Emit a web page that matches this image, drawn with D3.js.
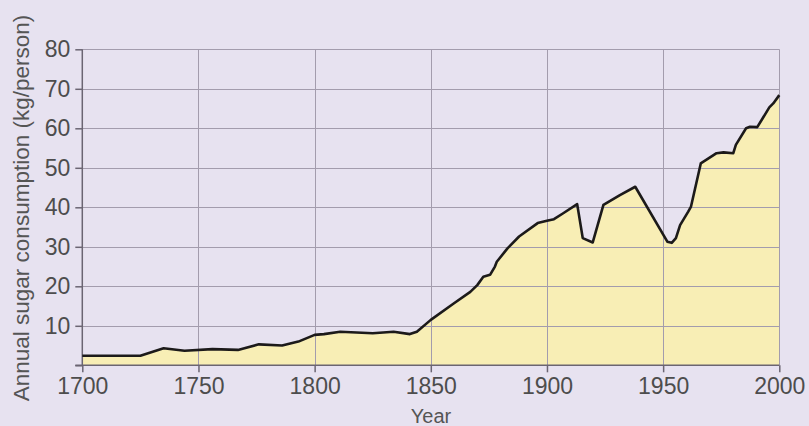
<!DOCTYPE html>
<html>
<head>
<meta charset="utf-8">
<script src="https://cdn.jsdelivr.net/npm/d3@7"></script>
<style>
  html, body { margin: 0; padding: 0; background: #e7e2f0; }
  svg { display: block; font-family: "Liberation Sans", Arial, sans-serif; }
</style>
</head>
<body>
<svg id="chart" width="809" height="426"></svg>
<script>
// Annual sugar consumption per person, 1700-2000
const years = [1700, 1725, 1735, 1744, 1756, 1767, 1776, 1786, 1793, 1800, 1804, 1811, 1825, 1834, 1841, 1844,
  1850, 1860, 1867, 1870, 1872.6, 1875.5, 1877.6, 1878.4, 1883, 1888, 1896, 1900, 1903, 1907, 1913,
  1915.4, 1919.7, 1924.3, 1931.4, 1938, 1951.8, 1953.7, 1955.5, 1957.3, 1960.8, 1962, 1966.2, 1973,
  1976, 1980.2, 1981.3, 1985.7, 1987.4, 1990.5, 1992.4, 1995.7, 1997.4, 2000];
const consumption = [2.4, 2.4, 4.3, 3.7, 4.1, 3.9, 5.3, 5.0, 6.0, 7.7, 7.9, 8.5, 8.1, 8.5, 7.9, 8.5,
  11.5, 15.7, 18.6, 20.3, 22.4, 22.9, 25.0, 26.2, 29.6, 32.6, 36.0, 36.6, 37.0, 38.5, 40.8,
  32.2, 31.1, 40.6, 43.1, 45.2, 31.3, 31.0, 32.2, 35.5, 38.9, 40.2, 51.1, 53.7,
  53.9, 53.7, 55.8, 60.0, 60.4, 60.3, 62.1, 65.3, 66.3, 68.4];
const xTicks = [1700, 1750, 1800, 1850, 1900, 1950, 2000];
const yTicks = [10, 20, 30, 40, 50, 60, 70, 80];
const yTitle = "Annual sugar consumption (kg/person)";
const xTitle = "Year";

const svg = d3.select("#chart");
const x = d3.scaleLinear().domain([1700, 2000]).range([82.3, 779.3]);
const y = d3.scaleLinear().domain([0, 80]).range([365.3, 49.3]);
const data = years.map((yr, i) => ({ yr, v: consumption[i] }));

// yellow area under the curve
svg.append("path")
  .datum(data)
  .attr("fill", "#f8eeb5")
  .attr("d", d3.area().x(d => x(d.yr)).y0(y(0)).y1(d => y(d.v)));

// grid
const grid = svg.append("g").attr("stroke", "#a39cad").attr("stroke-width", 1);
grid.selectAll("line.h").data(yTicks).join("line")
  .attr("x1", x(1700)).attr("x2", x(2000))
  .attr("y1", d => Math.round(y(d)) + 0.5).attr("y2", d => Math.round(y(d)) + 0.5);
grid.selectAll("line.v").data(xTicks.slice(1)).join("line")
  .attr("y1", y(80)).attr("y2", y(0))
  .attr("x1", d => Math.round(x(d)) + 0.5).attr("x2", d => Math.round(x(d)) + 0.5);

// axes
const xAxis = svg.append("g")
  .attr("transform", `translate(0,${y(0)})`)
  .call(d3.axisBottom(x).tickValues(xTicks).tickFormat(d3.format("d")).tickSize(7).tickPadding(5));
const yAxis = svg.append("g")
  .attr("transform", `translate(${x(1700)},0)`)
  .call(d3.axisLeft(y).tickValues([0].concat(yTicks)).tickFormat(d => d === 0 ? "" : d).tickSize(7).tickPadding(5));
[xAxis, yAxis].forEach(g => {
  g.select(".domain").attr("stroke", "#6b6572").attr("stroke-width", 1.5);
  g.selectAll(".tick line").attr("stroke", "#6b6572").attr("stroke-width", 1.5);
  g.selectAll(".tick text").attr("fill", "#4d4d4d").attr("font-size", 23).attr("font-family", "Liberation Sans, Arial, sans-serif");
});
yAxis.select(".domain").attr("d", `M0,${y(80)}V${y(0)}`);
xAxis.select(".domain").attr("d", `M0,0H${x(2000) - 0}`).attr("transform", `translate(${-7},0)`)
  .attr("d", `M${x(1700)},0H${x(2000) + 7}`);

// consumption line
svg.append("path")
  .datum(data)
  .attr("fill", "none")
  .attr("stroke", "#1c1a1a")
  .attr("stroke-width", 2.6)
  .attr("stroke-linejoin", "round")
  .attr("d", d3.line().x(d => x(d.yr)).y(d => y(d.v)));

// titles
svg.append("text")
  .attr("transform", "translate(29,208) rotate(-90)")
  .attr("text-anchor", "middle")
  .attr("fill", "#555")
  .attr("font-size", 22.5)
  .text(yTitle);
svg.append("text")
  .attr("x", 431).attr("y", 423)
  .attr("text-anchor", "middle")
  .attr("fill", "#555")
  .attr("font-size", 20)
  .text(xTitle);
</script>
</body>
</html>
